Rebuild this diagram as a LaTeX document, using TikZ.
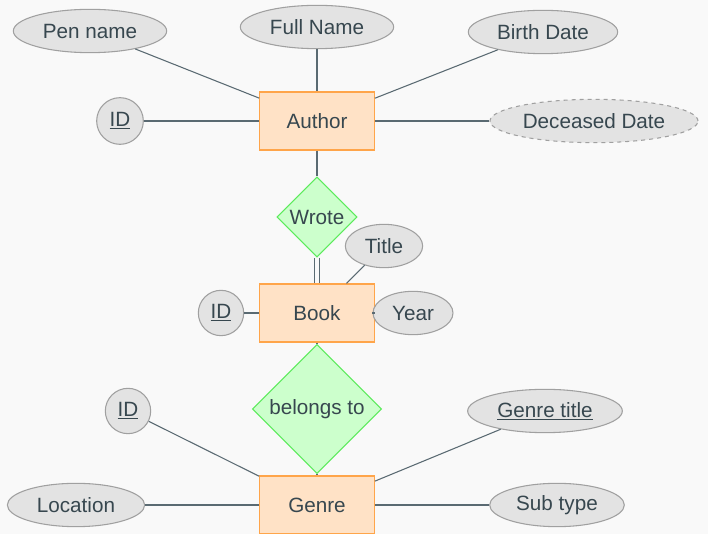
\documentclass[tikz,border=0pt]{standalone}
\usepackage{fontspec}
\setmainfont{Liberation Sans}
\usepackage{tikz}
\usetikzlibrary{shapes.geometric}
\definecolor{bgcol}{HTML}{F9F9F9}
\definecolor{txtcol}{HTML}{37474F}
\definecolor{linecol}{HTML}{5A6A72}
\definecolor{entfill}{HTML}{FFE2C6}
\definecolor{entdraw}{HTML}{FFA54A}
\definecolor{relfill}{HTML}{CCFFCC}
\definecolor{reldraw}{HTML}{5CEB5C}
\definecolor{attfill}{HTML}{E3E3E3}
\definecolor{attdraw}{HTML}{A0A0A0}

\begin{document}
\begin{tikzpicture}[x=0.75pt, y=-0.75pt,
    every node/.style={text=txtcol, font=\fontsize{15.5}{18}\selectfont, inner sep=0pt},
    entity/.style={rectangle, draw=entdraw, fill=entfill, line width=0.8pt, minimum width=86pt, minimum height=43.5pt},
    relation/.style={diamond, draw=reldraw, fill=relfill, line width=0.8pt, aspect=1},
    attrib/.style={ellipse, draw=attdraw, fill=attfill, line width=0.8pt, minimum height=32.5pt},
    keyattr/.style={circle, draw=attdraw, fill=attfill, line width=0.8pt, minimum size=35pt},
    link/.style={draw=linecol, line width=0.8pt}]
    \fill[bgcol] (0,0) rectangle (708,534);
    \useasboundingbox (0,0) rectangle (708,534);

    \node[entity] (author) at (317,121) {Author};
    \node[entity] (book) at (317,313) {Book};
    \node[entity] (genre) at (317,505) {Genre};

    \node[relation, minimum width=60pt, minimum height=60pt] (wrote) at (317,217) {Wrote};
    \node[relation, minimum width=97pt, minimum height=97pt] (belongs) at (317,409) {belongs to};

    \node[attrib, minimum width=115pt] (penname) at (90,31) {Pen name};
    \node[attrib, minimum width=115pt] (fullname) at (317,27) {Full Name};
    \node[attrib, minimum width=112pt] (birth) at (543,32) {Birth Date};
    \node[attrib, dashed, minimum width=156pt] (deceased) at (594,121) {Deceased Date};
    \node[keyattr] (authorid) at (120,121) {\underline{ID}};

    \node[attrib, minimum width=58pt] (title) at (384,246) {Title};
    \node[attrib, minimum width=60pt] (year) at (413,313) {Year};
    \node[keyattr, minimum size=34pt] (bookid) at (221,313) {\underline{ID}};

    \node[keyattr, minimum size=34pt] (genreid) at (128,411) {\underline{ID}};
    \node[attrib, minimum width=116pt] (genretitle) at (545,411) {\underline{Genre title}};
    \node[attrib, minimum width=103pt] (location) at (76,505) {Location};
    \node[attrib, minimum width=101pt] (subtype) at (557,505) {Sub type};

    \path[link] (penname) -- (author);
    \path[link] (fullname) -- (author);
    \path[link] (birth) -- (author);
    \path[link] (authorid) -- (author);
    \path[link] (deceased) -- (author);
    \path[link] (author) -- (wrote);
    \draw[draw=linecol, line width=0.7pt, double=bgcol, double distance=2.6pt] (wrote) -- (book);
    \path[link] (title) -- (book);
    \path[link] (year) -- (book);
    \path[link] (bookid) -- (book);
    \path[link] (book) -- (belongs);
    \path[link] (belongs) -- (genre);
    \path[link] (genreid) -- (genre);
    \path[link] (genretitle) -- (genre);
    \path[link] (location) -- (genre);
    \path[link] (subtype) -- (genre);
\end{tikzpicture}
\end{document}
